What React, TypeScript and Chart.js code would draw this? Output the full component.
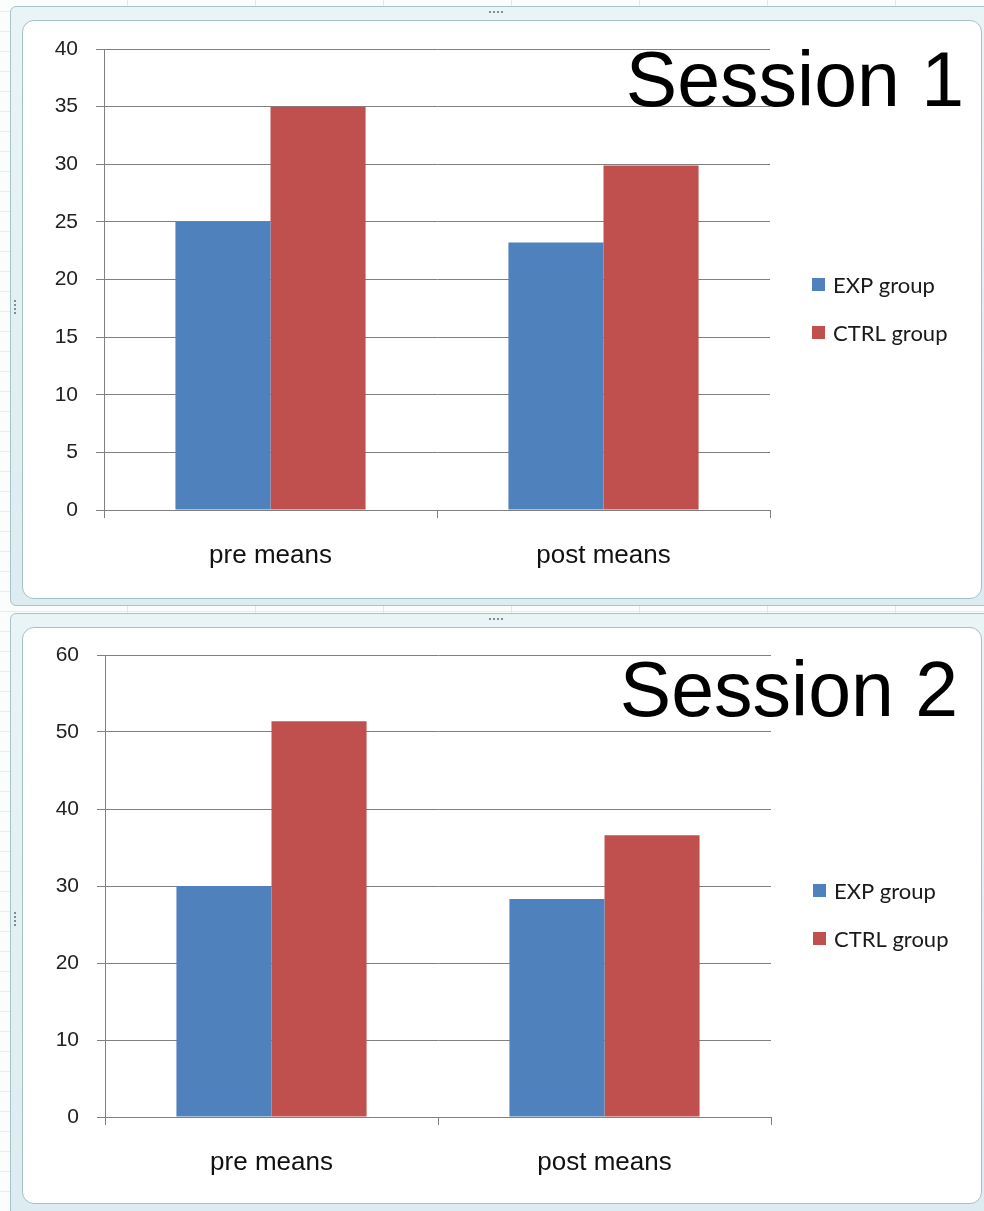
import React, { useEffect, useRef } from 'react';
import { Chart, registerables } from 'chart.js';

Chart.register(...registerables);

// Categories, series and axis ranges
const categories = ['pre means', 'post means'];
const seriesNames = ['EXP group', 'CTRL group'];
const seriesColors = ['#4F81BD', '#C0504D'];

const session1Exp = [25, 23.2];
const session1Ctrl = [35, 29.9];
const session2Exp = [30, 28.3];
const session2Ctrl = [51.4, 36.6];

const session1Axis = { max: 40, step: 5 };
const session2Axis = { max: 60, step: 10 };

const GRID = '#808080';
const AXIS_FONT = '"Liberation Sans", Arial, sans-serif';
const LEGEND_FONT = 'Lato, "Open Sans", sans-serif';

// Legend drawn at the right of the plot, one entry per dataset
const sideLegend = {
  id: 'sideLegend',
  afterDraw(chart: any, _args: any, opts: any) {
    const { ctx } = chart;
    ctx.save();
    ctx.font = `${opts.size}px ${LEGEND_FONT}`;
    ctx.textBaseline = 'middle';
    ctx.textAlign = 'left';
    chart.data.datasets.forEach((ds: any, i: number) => {
      const y = opts.y + i * opts.gap;
      ctx.fillStyle = ds.backgroundColor;
      ctx.fillRect(opts.x, y - 7, 13, 13);
      ctx.fillStyle = '#1a1a1a';
      ctx.fillText(ds.label, opts.x + 21, y + 1);
    });
    ctx.restore();
  },
};

// Large session heading in the upper right corner
const cornerTitle = {
  id: 'cornerTitle',
  afterDraw(chart: any, _args: any, opts: any) {
    const { ctx } = chart;
    ctx.save();
    ctx.font = `${opts.size}px ${AXIS_FONT}`;
    ctx.textAlign = 'right';
    ctx.textBaseline = 'alphabetic';
    ctx.fillStyle = '#000';
    ctx.fillText(opts.text, opts.x, opts.y);
    ctx.restore();
  },
};

type Geo = {
  w: number; h: number; left: number; top: number; right: number; bottom: number;
  legendX: number; legendY: number; titleX: number; titleY: number; titleSize: number;
};

function SessionChart({ title, exp, ctrl, axis, geo }: {
  title: string; exp: number[]; ctrl: number[]; axis: { max: number; step: number }; geo: Geo;
}) {
  const ref = useRef<HTMLCanvasElement>(null);

  useEffect(() => {
    const chart = new Chart(ref.current as HTMLCanvasElement, {
      type: 'bar',
      data: {
        labels: categories,
        datasets: [
          { label: seriesNames[0], data: exp, backgroundColor: seriesColors[0], borderWidth: 0, inflateAmount: 0 },
          { label: seriesNames[1], data: ctrl, backgroundColor: seriesColors[1], borderWidth: 0, inflateAmount: 0 },
        ],
      },
      options: {
        responsive: false,
        animation: false,
        events: [],
        layout: { padding: { top: geo.top, right: geo.right, left: 0, bottom: 0 } },
        datasets: { bar: { categoryPercentage: 0.571, barPercentage: 1 } },
        plugins: {
          legend: { display: false },
          tooltip: { enabled: false },
          sideLegend: { x: geo.legendX, y: geo.legendY, gap: 48, size: 22 },
          cornerTitle: { text: title, x: geo.titleX, y: geo.titleY, size: geo.titleSize },
        } as any,
        scales: {
          x: {
            grid: { drawOnChartArea: false, offset: true, tickLength: 8, color: GRID, lineWidth: 1 },
            border: { color: GRID, width: 1 },
            ticks: { padding: 22, color: '#111', font: { family: AXIS_FONT, size: 26 } },
            afterFit: (s: any) => { s.height = geo.bottom; },
          },
          y: {
            min: 0,
            max: axis.max,
            ticks: { stepSize: axis.step, padding: 18, color: '#222', font: { family: AXIS_FONT, size: 21 } },
            grid: { color: GRID, tickLength: 8, lineWidth: 1 },
            border: { color: GRID, width: 1 },
            afterFit: (s: any) => {
              s.width = geo.left;
              // the plot's top edge is set by the layout padding alone
              s.paddingTop = 0;
              s.paddingBottom = 0;
            },
          },
        },
      },
      plugins: [sideLegend, cornerTitle],
    });
    return () => chart.destroy();
  }, []);

  return <canvas ref={ref} width={geo.w} height={geo.h} style={{ display: 'block' }} />;
}

const topGeo: Geo = {
  w: 958, h: 577, left: 81, top: 28, right: 211, bottom: 88,
  legendX: 789, legendY: 264, titleX: 941, titleY: 85, titleSize: 77,
};
const bottomGeo: Geo = {
  w: 958, h: 575, left: 82, top: 27, right: 210, bottom: 86,
  legendX: 790, legendY: 263, titleX: 935, titleY: 88, titleSize: 77,
};

function Dots({ x, y, vertical }: { x: number; y: number; vertical?: boolean }) {
  const items = [0, 1, 2, 3];
  return (
    <>
      {items.map((i) => (
        <div key={i} style={{
          position: 'absolute',
          left: vertical ? x : x + i * 4,
          top: vertical ? y + i * 4 : y,
          width: 2, height: 2, background: '#7d8f95',
        }} />
      ))}
    </>
  );
}

function Frame({ top, height, innerTop, innerHeight, children }: {
  top: number; height: number; innerTop: number; innerHeight: number; children: React.ReactNode;
}) {
  return (
    <>
      <div style={{
        position: 'absolute', left: 10, top, width: 990, height,
        background: 'linear-gradient(#e9f4f6, #dcecf0)',
        border: '1px solid #a8c3ca', boxSizing: 'border-box',
        borderRadius: 6,
      }} />
      <div style={{
        position: 'absolute', left: 22, top: innerTop, width: 960, height: innerHeight,
        background: '#fff', border: '1px solid #a6c0c7', boxSizing: 'border-box',
        borderRadius: 12, overflow: 'hidden',
      }}>
        {children}
      </div>
      <Dots x={489} y={top + 5} />
      <Dots x={14} y={top + height / 2 - 6} vertical />
    </>
  );
}

export default function App() {
  return (
    <div style={{
      position: 'absolute', left: 0, top: 0, width: 984, height: 1211, overflow: 'hidden',
      background: '#fbfdfd',
      backgroundImage:
        'repeating-linear-gradient(90deg, transparent 0 127px, #dfe9ec 127px 128px), repeating-linear-gradient(0deg, transparent 0 19px, #e4eef0 19px 20px)',
    }}>
      <Frame top={6} height={600} innerTop={20} innerHeight={579}>
        <SessionChart title="Session 1" exp={session1Exp} ctrl={session1Ctrl} axis={session1Axis} geo={topGeo} />
      </Frame>
      <Frame top={613} height={610} innerTop={627} innerHeight={577}>
        <SessionChart title="Session 2" exp={session2Exp} ctrl={session2Ctrl} axis={session2Axis} geo={bottomGeo} />
      </Frame>
    </div>
  );
}
